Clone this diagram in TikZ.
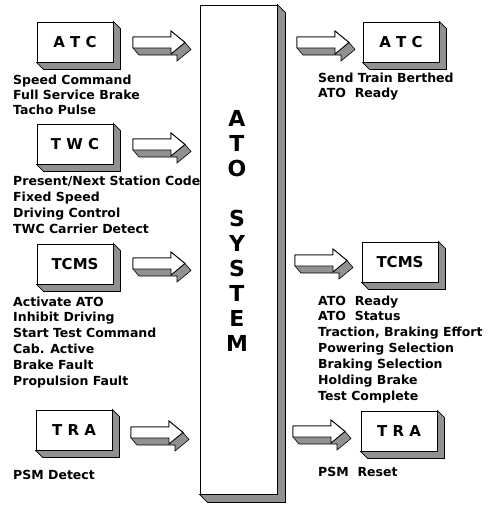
\documentclass[tikz,border=0pt]{standalone}
\usepackage{fontspec}
\setmainfont{DejaVu Sans}
\usetikzlibrary{calc}
\definecolor{SideGray}{RGB}{145,145,145}

% shaded depth of a box node
\newcommand{\extrude}[2]{%
  \filldraw[boxside] (#1.north east) -- ($(#1.north east)+(#2,#2)$) -- ($(#1.south east)+(#2,#2)$)
    -- ($(#1.south west)+(#2,#2)$) -- (#1.south west) -- (#1.south east) -- cycle;}

% block arrow, top-left corner of its body at #1
\newcommand{\flowarrow}[1]{%
  \begin{scope}[shift={#1}]
    \filldraw[boxside] (0,0) -- (38,0) -- (38,-6) -- (52,5.5) -- (58,12.5) -- (44,24) -- (44,18) -- (6,18) -- (0,11) -- cycle;
    \filldraw[boxface] (0,0) -- (38,0) -- (38,-6) -- (52,5.5) -- (38,17) -- (38,11) -- (0,11) -- cycle;
  \end{scope}}

\begin{document}
\begin{tikzpicture}[x=1pt, y=-1pt,
    boxface/.style={draw=black, fill=white, line width=0.9pt},
    boxside/.style={draw=black, fill=SideGray, line width=0.6pt},
    unitbox/.style={boxface, minimum width=76pt, minimum height=40pt, inner sep=0pt,
      font=\bfseries\fontsize{15}{18}\selectfont},
    sysbox/.style={boxface, minimum width=77pt, minimum height=489pt, inner sep=0pt},
    sysletter/.style={inner sep=0pt, font=\bfseries\fontsize{22}{24}\selectfont},
    siglist/.style={anchor=west, inner sep=0pt, text height=9pt, text depth=2.5pt,
      font=\bfseries\fontsize{12.5}{14}\selectfont}]
    \useasboundingbox (0,0) rectangle (489,506);

    % ATO system
    \node[sysbox] (ato) at (238.5,249.5) {};
    \extrude{ato}{8}
    \node[sysletter] (atoA) at (237,118) {A};
    \node[sysletter] (atoT) at (237,143) {T};
    \node[sysletter] (atoO) at (237,168) {O};
    \node[sysletter] (sysS) at (237,218) {S};
    \node[sysletter] (sysY) at (237,243) {Y};
    \node[sysletter] (sysS2) at (237,268) {S};
    \node[sysletter] (sysT) at (237,293) {T};
    \node[sysletter] (sysE) at (237,318) {E};
    \node[sysletter] (sysM) at (237,343) {M};

    % Inputs
    \node[unitbox] (atcIn) at (75,42) {A T C};
    \extrude{atcIn}{7}
    \node[unitbox] (twcIn) at (75,144) {T W C};
    \extrude{twcIn}{7}
    \node[unitbox] (tcmsIn) at (75,264) {TCMS};
    \extrude{tcmsIn}{7}
    \node[unitbox] (traIn) at (74,430) {T R A};
    \extrude{traIn}{7}

    % Outputs
    \node[unitbox] (atcOut) at (401,42) {A T C};
    \extrude{atcOut}{7}
    \node[unitbox] (tcmsOut) at (400,262) {TCMS};
    \extrude{tcmsOut}{7}
    \node[unitbox] (traOut) at (399,431) {T R A};
    \extrude{traOut}{7}

    % Arrows
    \flowarrow{(133,37)}
    \flowarrow{(133,139)}
    \flowarrow{(133,258)}
    \flowarrow{(131,427)}
    \flowarrow{(297,37)}
    \flowarrow{(295,255)}
    \flowarrow{(293,426)}

    % Input signals
    \node[siglist] (atcSig1) at (13,81) {Speed Command};
    \node[siglist] (atcSig2) at (13,96) {Full Service Brake};
    \node[siglist] (atcSig3) at (13,111) {Tacho Pulse};
    \node[siglist] (twcSig1) at (13,182) {Present/Next Station Code};
    \node[siglist] (twcSig2) at (13,198) {Fixed Speed};
    \node[siglist] (twcSig3) at (13,214) {Driving Control};
    \node[siglist] (twcSig4) at (13,230) {TWC Carrier Detect};
    \node[siglist] (tcmsSig1) at (13,303) {Activate ATO};
    \node[siglist] (tcmsSig2) at (13,318) {Inhibit Driving};
    \node[siglist] (tcmsSig3) at (13,334) {Start Test Command};
    \node[siglist] (tcmsSig4) at (13,350) {Cab. Active};
    \node[siglist] (tcmsSig5) at (13,366) {Brake Fault};
    \node[siglist] (tcmsSig6) at (13,382) {Propulsion Fault};
    \node[siglist] (traSig1) at (13,476) {PSM Detect};

    % Output signals
    \node[siglist] (atcOutSig1) at (318,79) {Send Train Berthed};
    \node[siglist] (atcOutSig2) at (318,94) {ATO\ \ Ready};
    \node[siglist] (tcmsOutSig1) at (318,302) {ATO\ \ Ready};
    \node[siglist] (tcmsOutSig2) at (318,317) {ATO\ \ Status};
    \node[siglist] (tcmsOutSig3) at (318,333) {Traction, Braking Effort};
    \node[siglist] (tcmsOutSig4) at (318,349) {Powering Selection};
    \node[siglist] (tcmsOutSig5) at (318,365) {Braking Selection};
    \node[siglist] (tcmsOutSig6) at (318,381) {Holding Brake};
    \node[siglist] (tcmsOutSig7) at (318,397) {Test Complete};
    \node[siglist] (traOutSig1) at (318,473) {PSM\ \ Reset};
\end{tikzpicture}
\end{document}
